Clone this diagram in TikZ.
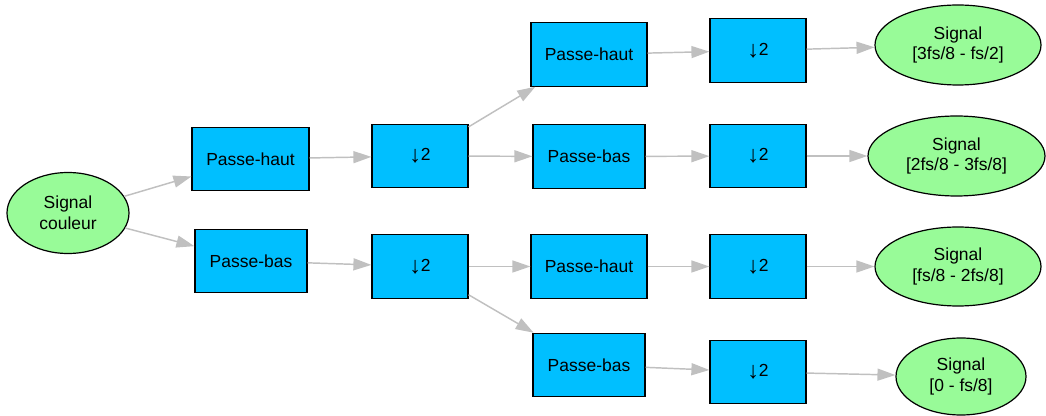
\documentclass[tikz,border=0pt]{standalone}
\usepackage{fontspec}
\setmainfont{Liberation Sans}
\usetikzlibrary{shapes.geometric,arrows.meta}
\definecolor{boxblue}{HTML}{00BFFF}
\definecolor{sigreen}{HTML}{98FB98}
\definecolor{edgegray}{HTML}{C0C0C0}
\newcommand{\dnarrow}{\raisebox{-1.6pt}{\fontsize{17.5}{17.5}\selectfont ↓}}
\begin{document}
\begin{tikzpicture}[x=0.75pt,y=-0.75pt,
  every node/.style={font=\fontsize{13.1}{15.7}\selectfont, text=black},
  filt/.style={draw=black, line width=0.9pt, fill=boxblue, rectangle, inner sep=0pt, minimum height=47.5pt},
  sig/.style={draw=black, line width=0.9pt, fill=sigreen, ellipse, inner sep=0pt, align=center},
  link/.style={draw=edgegray, line width=1.1pt, -{Triangle[length=13.5pt,width=9pt]}}]
\useasboundingbox (0,0) rectangle (1046,416);

% source
\node[sig, minimum width=91.5pt, minimum height=60.75pt] (sc) at (68,213) {Signal\\couleur};

% level 1 filters
\node[filt, minimum width=87.75pt] (ph1) at (250.5,159) {Passe-haut};
\node[filt, minimum width=84pt] (pb1) at (251,261) {Passe-bas};

% level 1 decimators
\node[filt, minimum width=72pt] (d1) at (420,156) {\dnarrow 2};
\node[filt, minimum width=72pt] (d2) at (420,266.5) {\dnarrow 2};

% level 2 filters
\node[filt, minimum width=87pt] (ph2) at (589,54.5) {Passe-haut};
\node[filt, minimum width=84pt] (pb2) at (589,156.5) {Passe-bas};
\node[filt, minimum width=87pt] (ph3) at (589,266.5) {Passe-haut};
\node[filt, minimum width=84pt] (pb3) at (589,365) {Passe-bas};

% level 2 decimators
\node[filt, minimum width=72pt] (d3) at (758,50.5) {\dnarrow 2};
\node[filt, minimum width=72pt] (d4) at (758,156) {\dnarrow 2};
\node[filt, minimum width=72pt] (d5) at (758,266.5) {\dnarrow 2};
\node[filt, minimum width=72pt] (d6) at (758,372) {\dnarrow 2};

% outputs
\node[sig, minimum width=124.5pt, minimum height=60pt] (s1) at (958,45) {Signal\\{[3fs/8 - fs/2]}};
\node[sig, minimum width=132.75pt, minimum height=60pt] (s2) at (956.5,156) {Signal\\{[2fs/8 - 3fs/8]}};
\node[sig, minimum width=124.5pt, minimum height=59.25pt] (s3) at (958,266.5) {Signal\\{[fs/8 - 2fs/8]}};
\node[sig, minimum width=97.5pt, minimum height=57.75pt] (s4) at (961,376.5) {Signal\\{[0 - fs/8]}};

% connectors
\draw[link] (sc) -- (ph1);
\draw[link] (sc) -- (pb1);
\draw[link] (ph1) -- (d1);
\draw[link] (pb1) -- (d2);
\draw[link] (d1) -- (ph2);
\draw[link] (d1) -- (pb2);
\draw[link] (d2) -- (ph3);
\draw[link] (d2) -- (pb3);
\draw[link] (ph2) -- (d3);
\draw[link] (pb2) -- (d4);
\draw[link] (ph3) -- (d5);
\draw[link] (pb3) -- (d6);
\draw[link] (d3) -- (s1);
\draw[link] (d4) -- (s2);
\draw[link] (d5) -- (s3);
\draw[link] (d6) -- (s4);
\end{tikzpicture}
\end{document}
